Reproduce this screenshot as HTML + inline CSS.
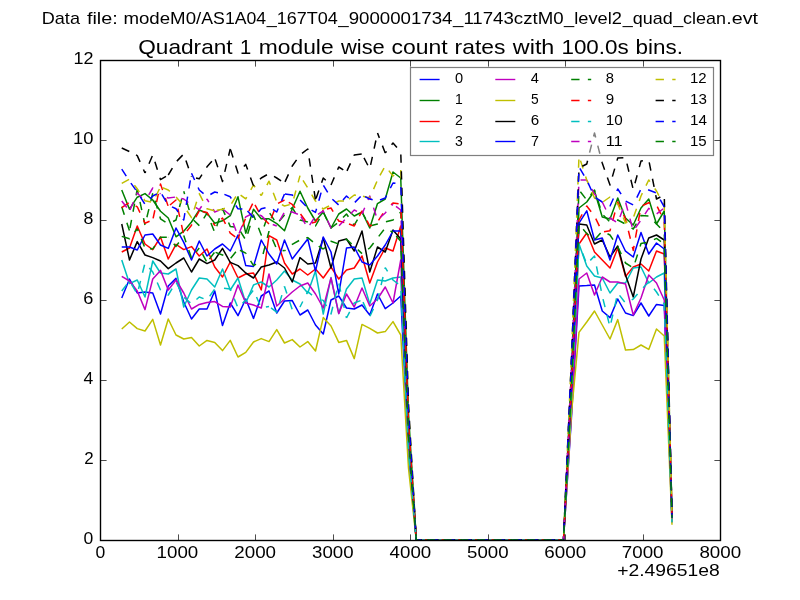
<!DOCTYPE html>
<html><head><meta charset="utf-8"><title>Quadrant 1 module wise count rates</title>
<style>html,body{margin:0;padding:0;background:#fff;}svg{display:block;will-change:transform;}text{font-family:"Liberation Sans",sans-serif;fill:#000;}</style>
</head><body>
<svg width="800" height="600" viewBox="0 0 800 600">
<rect x="0" y="0" width="800" height="600" fill="#ffffff"/>
<text x="41.76" y="24.30" font-size="17.00" textLength="38.21" lengthAdjust="spacingAndGlyphs">Data</text>
<text x="86.90" y="24.30" font-size="17.00" textLength="30.83" lengthAdjust="spacingAndGlyphs">file:</text>
<text x="123.46" y="24.30" font-size="17.00" textLength="77.77" lengthAdjust="spacingAndGlyphs">modeM0/</text>
<text x="201.32" y="24.30" font-size="17.00" textLength="64.83" lengthAdjust="spacingAndGlyphs">AS1A04</text>
<text x="266.68" y="24.30" font-size="17.00" textLength="71.18" lengthAdjust="spacingAndGlyphs">_167T04</text>
<text x="338.39" y="24.30" font-size="17.00" textLength="114.13" lengthAdjust="spacingAndGlyphs">_9000001734</text>
<text x="453.02" y="24.30" font-size="17.00" textLength="110.54" lengthAdjust="spacingAndGlyphs">_11743cztM0</text>
<text x="564.06" y="24.30" font-size="17.00" textLength="57.84" lengthAdjust="spacingAndGlyphs">_level2</text>
<text x="622.76" y="24.30" font-size="17.00" textLength="49.92" lengthAdjust="spacingAndGlyphs">_quad</text>
<text x="673.15" y="24.30" font-size="17.00" textLength="52.92" lengthAdjust="spacingAndGlyphs">_clean</text>
<text x="726.30" y="24.30" font-size="17.00" textLength="31.78" lengthAdjust="spacingAndGlyphs">.evt</text>
<text x="138.26" y="54.30" font-size="20.40" textLength="94.36" lengthAdjust="spacingAndGlyphs">Quadrant</text>
<text x="239.98" y="54.30" font-size="20.40" textLength="11.24" lengthAdjust="spacingAndGlyphs">1</text>
<text x="258.78" y="54.30" font-size="20.40" textLength="74.88" lengthAdjust="spacingAndGlyphs">module</text>
<text x="340.97" y="54.30" font-size="20.40" textLength="43.84" lengthAdjust="spacingAndGlyphs">wise</text>
<text x="391.43" y="54.30" font-size="20.40" textLength="56.20" lengthAdjust="spacingAndGlyphs">count</text>
<text x="454.63" y="54.30" font-size="20.40" textLength="50.78" lengthAdjust="spacingAndGlyphs">rates</text>
<text x="512.83" y="54.30" font-size="20.40" textLength="41.53" lengthAdjust="spacingAndGlyphs">with</text>
<text x="561.43" y="54.30" font-size="20.40" textLength="67.27" lengthAdjust="spacingAndGlyphs">100.0s</text>
<text x="635.63" y="54.30" font-size="20.40" textLength="47.40" lengthAdjust="spacingAndGlyphs">bins.</text>
<g fill="none" stroke-width="1.5" stroke-linejoin="round" clip-path="url(#ax)">
<defs><clipPath id="ax"><rect x="100" y="60" width="620" height="480.7"/></clipPath></defs>
<polyline stroke="#0000ff" points="121.75,298.00 129.50,279.00 137.25,293.00 145.00,292.00 152.75,293.00 160.50,314.00 168.25,286.00 176.00,278.40 183.75,302.00 191.50,319.00 199.25,309.00 207.00,309.00 214.75,291.00 222.50,325.60 230.25,303.00 238.00,315.60 245.75,299.00 253.50,318.40 261.25,296.00 269.00,291.00 276.75,313.00 284.50,301.00 292.25,300.60 300.00,315.00 307.75,310.00 315.50,325.00 323.25,334.00 331.00,300.00 338.75,296.00 346.50,308.00 354.25,309.00 362.00,305.00 369.75,315.00 377.50,294.00 385.25,308.60 393.00,303.00 400.75,296.00 408.50,454.60 416.25,540.00 424.00,540.00 431.75,540.00 439.50,540.00 447.25,540.00 455.00,540.00 462.75,540.00 470.50,540.00 478.25,540.00 486.00,540.00 493.75,540.00 501.50,540.00 509.25,540.00 517.00,540.00 524.75,540.00 532.50,540.00 540.25,540.00 548.00,540.00 555.75,540.00 563.50,540.00 571.25,420.62 579.00,286.00 586.75,285.60 594.50,285.00 602.25,311.00 610.00,317.60 617.75,299.00 625.50,313.00 633.25,315.60 641.00,303.00 648.75,316.00 656.50,304.40 664.25,305.60 672.00,522.42"/>
<polyline stroke="#008000" points="121.75,190.00 129.50,209.20 137.25,197.20 145.00,193.60 152.75,200.00 160.50,211.20 168.25,218.00 176.00,236.80 183.75,231.20 191.50,222.00 199.25,210.00 207.00,213.20 214.75,223.20 222.50,220.80 230.25,215.60 238.00,196.80 245.75,233.20 253.50,209.20 261.25,218.80 269.00,218.80 276.75,223.60 284.50,230.80 292.25,208.80 300.00,191.20 307.75,208.00 315.50,221.00 323.25,212.00 331.00,228.00 338.75,214.00 346.50,209.00 354.25,216.00 362.00,212.00 369.75,228.00 377.50,203.60 385.25,199.00 393.00,172.00 400.75,178.00 408.50,413.30 416.25,540.00 424.00,540.00 431.75,540.00 439.50,540.00 447.25,540.00 455.00,540.00 462.75,540.00 470.50,540.00 478.25,540.00 486.00,540.00 493.75,540.00 501.50,540.00 509.25,540.00 517.00,540.00 524.75,540.00 532.50,540.00 540.25,540.00 548.00,540.00 555.75,540.00 563.50,540.00 571.25,383.96 579.00,208.00 586.75,202.00 594.50,191.00 602.25,217.00 610.00,219.00 617.75,198.00 625.50,218.00 633.25,225.00 641.00,208.00 648.75,199.00 656.50,224.00 664.25,211.00 672.00,515.33"/>
<polyline stroke="#ff0000" points="121.75,252.00 129.50,248.00 137.25,226.00 145.00,244.00 152.75,249.60 160.50,237.00 168.25,259.00 176.00,244.40 183.75,249.60 191.50,246.60 199.25,256.00 207.00,249.00 214.75,267.00 222.50,277.00 230.25,262.00 238.00,278.00 245.75,274.00 253.50,273.00 261.25,290.00 269.00,235.60 276.75,240.00 284.50,263.00 292.25,274.00 300.00,269.00 307.75,275.00 315.50,269.00 323.25,278.00 331.00,267.00 338.75,279.00 346.50,270.00 354.25,268.00 362.00,256.00 369.75,283.00 377.50,262.00 385.25,248.00 393.00,251.00 400.75,226.00 408.50,430.10 416.25,540.00 424.00,540.00 431.75,540.00 439.50,540.00 447.25,540.00 455.00,540.00 462.75,540.00 470.50,540.00 478.25,540.00 486.00,540.00 493.75,540.00 501.50,540.00 509.25,540.00 517.00,540.00 524.75,540.00 532.50,540.00 540.25,540.00 548.00,540.00 555.75,540.00 563.50,540.00 571.25,400.88 579.00,244.00 586.75,233.00 594.50,252.00 602.25,260.00 610.00,268.00 617.75,248.00 625.50,276.40 633.25,267.00 641.00,264.00 648.75,271.00 656.50,251.00 664.25,254.00 672.00,518.55"/>
<polyline stroke="#00bfbf" points="121.75,260.00 129.50,283.60 137.25,280.00 145.00,297.00 152.75,261.00 160.50,273.00 168.25,274.00 176.00,269.00 183.75,307.00 191.50,290.00 199.25,278.00 207.00,279.00 214.75,287.00 222.50,269.00 230.25,290.00 238.00,278.00 245.75,303.00 253.50,285.00 261.25,282.00 269.00,287.00 276.75,280.00 284.50,271.00 292.25,280.00 300.00,284.00 307.75,293.00 315.50,271.00 323.25,314.00 331.00,277.60 338.75,313.60 346.50,289.00 354.25,279.00 362.00,278.00 369.75,304.00 377.50,280.00 385.25,281.00 393.00,278.00 400.75,277.00 408.50,447.95 416.25,540.00 424.00,540.00 431.75,540.00 439.50,540.00 447.25,540.00 455.00,540.00 462.75,540.00 470.50,540.00 478.25,540.00 486.00,540.00 493.75,540.00 501.50,540.00 509.25,540.00 517.00,540.00 524.75,540.00 532.50,540.00 540.25,540.00 548.00,540.00 555.75,540.00 563.50,540.00 571.25,400.88 579.00,244.00 586.75,266.00 594.50,276.00 602.25,278.00 610.00,293.00 617.75,283.00 625.50,283.00 633.25,268.00 641.00,267.00 648.75,283.00 656.50,277.00 664.25,273.00 672.00,519.98"/>
<polyline stroke="#bf00bf" points="121.75,276.40 129.50,281.00 137.25,291.00 145.00,309.60 152.75,279.00 160.50,270.40 168.25,290.00 176.00,280.00 183.75,293.00 191.50,309.00 199.25,304.40 207.00,302.40 214.75,301.60 222.50,306.40 230.25,307.00 238.00,285.00 245.75,303.00 253.50,305.00 261.25,308.00 269.00,274.00 276.75,306.00 284.50,299.00 292.25,292.00 300.00,286.00 307.75,283.00 315.50,294.00 323.25,308.00 331.00,278.00 338.75,313.60 346.50,294.00 354.25,307.00 362.00,288.00 369.75,306.00 377.50,299.00 385.25,287.00 393.00,303.00 400.75,260.00 408.50,442.00 416.25,540.00 424.00,540.00 431.75,540.00 439.50,540.00 447.25,540.00 455.00,540.00 462.75,540.00 470.50,540.00 478.25,540.00 486.00,540.00 493.75,540.00 501.50,540.00 509.25,540.00 517.00,540.00 524.75,540.00 532.50,540.00 540.25,540.00 548.00,540.00 555.75,540.00 563.50,540.00 571.25,417.33 579.00,279.00 586.75,273.00 594.50,295.00 602.25,277.00 610.00,282.00 617.75,282.00 625.50,284.00 633.25,315.00 641.00,298.00 648.75,275.00 656.50,283.00 664.25,300.00 672.00,522.00"/>
<polyline stroke="#bfbf00" points="121.75,329.00 129.50,322.00 137.25,328.60 145.00,331.00 152.75,319.40 160.50,345.00 168.25,319.00 176.00,335.00 183.75,339.00 191.50,337.40 199.25,346.00 207.00,340.40 214.75,342.40 222.50,350.60 230.25,340.40 238.00,357.00 245.75,352.40 253.50,342.00 261.25,338.60 269.00,341.60 276.75,329.60 284.50,343.00 292.25,339.60 300.00,347.00 307.75,341.60 315.50,351.00 323.25,317.60 331.00,326.00 338.75,342.40 346.50,340.40 354.25,358.60 362.00,324.40 369.75,328.40 377.50,333.00 385.25,331.60 393.00,321.60 400.75,335.00 408.50,468.25 416.25,540.00 424.00,540.00 431.75,540.00 439.50,540.00 447.25,540.00 455.00,540.00 462.75,540.00 470.50,540.00 478.25,540.00 486.00,540.00 493.75,540.00 501.50,540.00 509.25,540.00 517.00,540.00 524.75,540.00 532.50,540.00 540.25,540.00 548.00,540.00 555.75,540.00 563.50,540.00 571.25,415.44 579.00,332.40 586.75,322.00 594.50,311.00 602.25,325.00 610.00,339.00 617.75,319.60 625.50,350.00 633.25,349.60 641.00,345.00 648.75,349.40 656.50,329.00 664.25,336.00 672.00,524.70"/>
<polyline stroke="#000000" points="121.75,224.00 129.50,260.00 137.25,241.60 145.00,255.00 152.75,257.60 160.50,261.00 168.25,268.60 176.00,263.00 183.75,258.00 191.50,272.00 199.25,259.00 207.00,263.60 214.75,260.00 222.50,248.40 230.25,262.40 238.00,265.60 245.75,273.00 253.50,278.00 261.25,267.00 269.00,265.00 276.75,262.00 284.50,268.00 292.25,282.00 300.00,257.60 307.75,264.00 315.50,263.00 323.25,238.00 331.00,268.00 338.75,241.00 346.50,239.00 354.25,251.00 362.00,231.00 369.75,272.00 377.50,247.00 385.25,252.00 393.00,230.00 400.75,239.00 408.50,434.65 416.25,540.00 424.00,540.00 431.75,540.00 439.50,540.00 447.25,540.00 455.00,540.00 462.75,540.00 470.50,540.00 478.25,540.00 486.00,540.00 493.75,540.00 501.50,540.00 509.25,540.00 517.00,540.00 524.75,540.00 532.50,540.00 540.25,540.00 548.00,540.00 555.75,540.00 563.50,540.00 571.25,391.48 579.00,224.00 586.75,225.00 594.50,244.00 602.25,240.00 610.00,257.00 617.75,246.00 625.50,275.00 633.25,297.00 641.00,259.00 648.75,238.00 656.50,235.00 664.25,240.00 672.00,517.50"/>
<polyline stroke="#0000ff" points="121.75,247.00 129.50,247.00 137.25,250.00 145.00,235.00 152.75,234.00 160.50,245.00 168.25,248.40 176.00,228.00 183.75,242.40 191.50,260.00 199.25,241.00 207.00,256.00 214.75,249.00 222.50,244.00 230.25,251.00 238.00,235.00 245.75,265.60 253.50,266.40 261.25,240.00 269.00,254.00 276.75,264.00 284.50,240.00 292.25,259.00 300.00,249.00 307.75,239.00 315.50,271.00 323.25,237.00 331.00,252.00 338.75,294.00 346.50,248.00 354.25,247.00 362.00,262.00 369.75,265.00 377.50,256.00 385.25,245.00 393.00,231.00 400.75,231.00 408.50,431.85 416.25,540.00 424.00,540.00 431.75,540.00 439.50,540.00 447.25,540.00 455.00,540.00 462.75,540.00 470.50,540.00 478.25,540.00 486.00,540.00 493.75,540.00 501.50,540.00 509.25,540.00 517.00,540.00 524.75,540.00 532.50,540.00 540.25,540.00 548.00,540.00 555.75,540.00 563.50,540.00 571.25,391.10 579.00,223.20 586.75,210.80 594.50,240.00 602.25,238.00 610.00,260.00 617.75,235.00 625.50,251.20 633.25,257.00 641.00,232.40 648.75,254.00 656.50,243.00 664.25,249.00 672.00,518.17"/>
<g stroke="#008000" stroke-dasharray="8.33 8.33">
<polyline points="121.75,206.80 129.50,230.80"/>
<polyline stroke-dashoffset="13.93" points="129.50,230.80 137.25,189.20"/>
<polyline stroke-dashoffset="3.66" points="137.25,189.20 145.00,225.00"/>
<polyline stroke-dashoffset="8.64" points="145.00,225.00 152.75,193.20"/>
<polyline stroke-dashoffset="8.90" points="152.75,193.20 160.50,218.80 168.25,224.00"/>
<polyline stroke-dashoffset="11.20" points="168.25,224.00 176.00,220.00 183.75,191.20"/>
<polyline stroke-dashoffset="5.32" points="183.75,191.20 191.50,218.00"/>
<polyline stroke-dashoffset="13.51" points="191.50,218.00 199.25,225.60"/>
<polyline stroke-dashoffset="8.17" points="199.25,225.60 207.00,213.20 214.75,232.40 222.50,208.80 230.25,226.40 238.00,227.60 245.75,240.00 253.50,215.00 261.25,235.00 269.00,212.00 276.75,224.00 284.50,215.00 292.25,207.60 300.00,220.00 307.75,222.00 315.50,226.00 323.25,212.00 331.00,228.00 338.75,222.00 346.50,214.00 354.25,225.20 362.00,212.00 369.75,226.00 377.50,224.00 385.25,222.00 393.00,220.00 400.75,212.00 408.50,425.20 416.25,540.00 424.00,540.00 431.75,540.00 439.50,540.00 447.25,540.00 455.00,540.00 462.75,540.00 470.50,540.00 478.25,540.00 486.00,540.00 493.75,540.00 501.50,540.00 509.25,540.00 517.00,540.00 524.75,540.00 532.50,540.00 540.25,540.00 548.00,540.00 555.75,540.00 563.50,540.00"/>
<polyline stroke-dashoffset="13.92" points="563.50,540.00 571.25,375.50 579.00,190.00 586.75,200.00 594.50,190.00 602.25,214.00 610.00,222.00 617.75,220.00 625.50,224.00 633.25,229.00 641.00,215.60 648.75,216.00 656.50,224.00 664.25,232.00 672.00,516.90"/>
</g>
<g stroke="#ff0000" stroke-dasharray="8.33 8.33">
<polyline points="121.75,207.60 129.50,202.40"/>
<polyline stroke-dashoffset="9.65" points="129.50,202.40 137.25,206.80 145.00,223.20 152.75,220.00"/>
<polyline stroke-dashoffset="15.00" points="152.75,220.00 160.50,184.00 168.25,206.40"/>
<polyline stroke-dashoffset="14.39" points="168.25,206.40 176.00,200.00 183.75,235.20"/>
<polyline stroke-dashoffset="11.52" points="183.75,235.20 191.50,225.20 199.25,210.80"/>
<polyline stroke-dashoffset="13.34" points="199.25,210.80 207.00,212.40 214.75,225.60"/>
<polyline stroke-dashoffset="7.56" points="214.75,225.60 222.50,218.00 230.25,233.20 238.00,238.80"/>
<polyline stroke-dashoffset="3.55" points="238.00,238.80 245.75,217.60 253.50,202.00"/>
<polyline stroke-dashoffset="13.50" points="253.50,202.00 261.25,216.40 269.00,224.00"/>
<polyline stroke-dashoffset="10.43" points="269.00,224.00 276.75,204.00 284.50,200.00"/>
<polyline stroke-dashoffset="11.77" points="284.50,200.00 292.25,204.40 300.00,213.20 307.75,224.00 315.50,222.00 323.25,210.00"/>
<polyline stroke-dashoffset="12.79" points="323.25,210.00 331.00,208.00 338.75,221.00 346.50,223.00"/>
<polyline stroke-dashoffset="13.98" points="346.50,223.00 354.25,226.00 362.00,211.00 369.75,226.00 377.50,222.00 385.25,210.00"/>
<polyline stroke-dashoffset="8.91" points="385.25,210.00 393.00,203.00 400.75,204.00 408.50,422.40 416.25,540.00 424.00,540.00 431.75,540.00 439.50,540.00 447.25,540.00 455.00,540.00 462.75,540.00 470.50,540.00 478.25,540.00 486.00,540.00 493.75,540.00 501.50,540.00 509.25,540.00 517.00,540.00 524.75,540.00 532.50,540.00 540.25,540.00 548.00,540.00 555.75,540.00 563.50,540.00"/>
<polyline stroke-dashoffset="14.60" points="563.50,540.00 571.25,389.60 579.00,220.00 586.75,206.00 594.50,216.00 602.25,232.00 610.00,230.80 617.75,202.00 625.50,219.00 633.25,250.40 641.00,206.40 648.75,202.80 656.50,205.00 664.25,221.00 672.00,516.08"/>
</g>
<g stroke="#00bfbf" stroke-dasharray="8.33 8.33">
<polyline points="121.75,291.00 129.50,280.80 137.25,294.00 145.00,263.00 152.75,272.00 160.50,290.00 168.25,295.00 176.00,282.00 183.75,297.00 191.50,304.00 199.25,297.00 207.00,300.00 214.75,289.00 222.50,288.00"/>
<polyline stroke-dashoffset="15.15" points="222.50,288.00 230.25,289.00 238.00,308.00 245.75,300.00"/>
<polyline stroke-dashoffset="12.99" points="245.75,300.00 253.50,290.00 261.25,308.00 269.00,306.40"/>
<polyline stroke-dashoffset="14.16" points="269.00,306.40 276.75,312.20 284.50,286.40"/>
<polyline stroke-dashoffset="0.88" points="284.50,286.40 292.25,309.60 300.00,307.00"/>
<polyline stroke-dashoffset="2.20" points="300.00,307.00 307.75,291.60 315.50,298.00"/>
<polyline stroke-dashoffset="10.38" points="315.50,298.00 323.25,300.40 331.00,314.00 338.75,283.00 346.50,318.00"/>
<polyline stroke-dashoffset="1.41" points="346.50,318.00 354.25,303.00 362.00,300.00"/>
<polyline stroke-dashoffset="14.27" points="362.00,300.00 369.75,316.80 377.50,300.00 385.25,267.60"/>
<polyline stroke-dashoffset="3.92" points="385.25,267.60 393.00,280.00 400.75,286.00 408.50,451.10 416.25,540.00 424.00,540.00 431.75,540.00 439.50,540.00 447.25,540.00 455.00,540.00 462.75,540.00 470.50,540.00 478.25,540.00 486.00,540.00 493.75,540.00 501.50,540.00 509.25,540.00 517.00,540.00 524.75,540.00 532.50,540.00 540.25,540.00 548.00,540.00 555.75,540.00 563.50,540.00"/>
<polyline stroke-dashoffset="10.28" points="563.50,540.00 571.25,400.88 579.00,244.00 586.75,264.00 594.50,256.00 602.25,296.00 610.00,327.00 617.75,293.00 625.50,303.00 633.25,299.00 641.00,290.00 648.75,282.00 656.50,292.00 664.25,304.00 672.00,522.30"/>
</g>
<g stroke="#bf00bf" stroke-dasharray="8.33 8.33">
<polyline points="121.75,201.00 129.50,211.00"/>
<polyline stroke-dashoffset="15.40" points="129.50,211.00 137.25,193.00 145.00,201.20"/>
<polyline stroke-dashoffset="9.25" points="145.00,201.20 152.75,188.00 160.50,194.00"/>
<polyline stroke-dashoffset="9.46" points="160.50,194.00 168.25,198.00 176.00,197.00"/>
<polyline stroke-dashoffset="11.24" points="176.00,197.00 183.75,199.00 191.50,205.00"/>
<polyline stroke-dashoffset="11.89" points="191.50,205.00 199.25,209.60 207.00,199.00"/>
<polyline stroke-dashoffset="4.75" points="207.00,199.00 214.75,212.00 222.50,209.00"/>
<polyline stroke-dashoffset="15.08" points="222.50,209.00 230.25,215.00 238.00,236.00 245.75,216.80 253.50,213.00"/>
<polyline stroke-dashoffset="10.44" points="253.50,213.00 261.25,215.60 269.00,223.00 276.75,226.00"/>
<polyline stroke-dashoffset="9.95" points="276.75,226.00 284.50,212.00"/>
<polyline stroke-dashoffset="11.16" points="284.50,212.00 292.25,212.00 300.00,215.00"/>
<polyline stroke-dashoffset="14.71" points="300.00,215.00 307.75,228.00 315.50,216.00"/>
<polyline stroke-dashoffset="13.69" points="315.50,216.00 323.25,211.00 331.00,228.00 338.75,226.00 346.50,218.00 354.25,210.00 362.00,214.00"/>
<polyline stroke-dashoffset="1.49" points="362.00,214.00 369.75,196.00 377.50,220.00 385.25,213.00 393.00,204.00"/>
<polyline stroke-dashoffset="12.87" points="393.00,204.00 400.75,210.00 408.50,424.50 416.25,540.00 424.00,540.00 431.75,540.00 439.50,540.00 447.25,540.00 455.00,540.00 462.75,540.00 470.50,540.00 478.25,540.00 486.00,540.00 493.75,540.00 501.50,540.00 509.25,540.00 517.00,540.00 524.75,540.00 532.50,540.00 540.25,540.00 548.00,540.00 555.75,540.00 563.50,540.00"/>
<polyline stroke-dashoffset="4.64" points="563.50,540.00 571.25,370.80 579.00,180.00 586.75,180.00 594.50,194.00 602.25,202.00 610.00,218.00 617.75,223.00 625.50,202.00 633.25,231.00 641.00,220.00 648.75,208.40 656.50,214.00 664.25,208.00 672.00,515.10"/>
</g>
<g stroke="#bfbf00" stroke-dasharray="8.33 8.33">
<polyline points="121.75,183.40 129.50,179.20 137.25,188.80 145.00,200.80 152.75,202.40 160.50,186.80"/>
<polyline stroke-dashoffset="14.50" points="160.50,186.80 168.25,190.00 176.00,196.80 183.75,206.00"/>
<polyline stroke-dashoffset="10.99" points="183.75,206.00 191.50,217.60 199.25,193.60 207.00,208.80 214.75,210.80"/>
<polyline stroke-dashoffset="14.47" points="214.75,210.80 222.50,209.20 230.25,205.60 238.00,193.20"/>
<polyline stroke-dashoffset="13.45" points="238.00,193.20 245.75,198.80 253.50,185.00 261.25,195.60"/>
<polyline stroke-dashoffset="4.74" points="261.25,195.60 269.00,181.20 276.75,202.00"/>
<polyline stroke-dashoffset="10.86" points="276.75,202.00 284.50,206.00 292.25,204.00 300.00,175.60"/>
<polyline stroke-dashoffset="11.00" points="300.00,175.60 307.75,188.00 315.50,201.00"/>
<polyline stroke-dashoffset="7.32" points="315.50,201.00 323.25,209.00 331.00,205.00"/>
<polyline stroke-dashoffset="11.03" points="331.00,205.00 338.75,201.00 346.50,201.00"/>
<polyline stroke-dashoffset="13.50" points="346.50,201.00 354.25,195.00 362.00,196.00"/>
<polyline stroke-dashoffset="15.63" points="362.00,196.00 369.75,198.00 377.50,180.00"/>
<polyline stroke-dashoffset="11.50" points="377.50,180.00 385.25,166.00 393.00,176.00 400.75,170.00 408.50,410.50 416.25,540.00 424.00,540.00 431.75,540.00 439.50,540.00 447.25,540.00 455.00,540.00 462.75,540.00 470.50,540.00 478.25,540.00 486.00,540.00 493.75,540.00 501.50,540.00 509.25,540.00 517.00,540.00 524.75,540.00 532.50,540.00 540.25,540.00 548.00,540.00 555.75,540.00 563.50,540.00"/>
<polyline stroke-dashoffset="10.65" points="563.50,540.00 571.25,359.52 579.00,156.00 586.75,180.00 594.50,198.00 602.25,202.40 610.00,197.00 617.75,204.00 625.50,223.00 633.25,218.00 641.00,196.00 648.75,180.00 656.50,191.00 664.25,206.00 672.00,514.95"/>
</g>
<g stroke="#000000" stroke-dasharray="8.33 8.33">
<polyline points="121.75,148.00 129.50,151.60"/>
<polyline stroke-dashoffset="9.35" points="129.50,151.60 137.25,155.60 145.00,173.00"/>
<polyline stroke-dashoffset="6.55" points="145.00,173.00 152.75,155.00 160.50,179.60 168.25,175.00"/>
<polyline stroke-dashoffset="0.29" points="168.25,175.00 176.00,162.00 183.75,154.00 191.50,176.80"/>
<polyline stroke-dashoffset="12.01" points="191.50,176.80 199.25,178.80 207.00,166.80 214.75,158.00"/>
<polyline stroke-dashoffset="15.21" points="214.75,158.00 222.50,181.60 230.25,148.80"/>
<polyline stroke-dashoffset="15.78" points="230.25,148.80 238.00,173.00 245.75,164.40 253.50,186.00"/>
<polyline stroke-dashoffset="7.32" points="253.50,186.00 261.25,178.00 269.00,173.60"/>
<polyline stroke-dashoffset="10.91" points="269.00,173.60 276.75,178.00 284.50,183.00"/>
<polyline stroke-dashoffset="15.46" points="284.50,183.00 292.25,166.00 300.00,155.00"/>
<polyline stroke-dashoffset="14.13" points="300.00,155.00 307.75,149.00 315.50,200.00"/>
<polyline stroke-dashoffset="14.96" points="315.50,200.00 323.25,178.00 331.00,185.00"/>
<polyline stroke-dashoffset="0.00" points="331.00,185.00 338.75,167.00 346.50,172.00"/>
<polyline stroke-dashoffset="15.46" points="346.50,172.00 354.25,155.00 362.00,154.00"/>
<polyline stroke-dashoffset="12.30" points="362.00,154.00 369.75,169.00 377.50,133.00"/>
<polyline stroke-dashoffset="3.10" points="377.50,133.00 385.25,153.00"/>
<polyline stroke-dashoffset="6.29" points="385.25,153.00 393.00,143.00 400.75,152.00 408.50,404.20 416.25,540.00 424.00,540.00 431.75,540.00 439.50,540.00 447.25,540.00 455.00,540.00 462.75,540.00 470.50,540.00 478.25,540.00 486.00,540.00 493.75,540.00 501.50,540.00 509.25,540.00 517.00,540.00 524.75,540.00 532.50,540.00 540.25,540.00 548.00,540.00 555.75,540.00 563.50,540.00"/>
<polyline stroke-dashoffset="7.12" points="563.50,540.00 571.25,365.16 579.00,168.00 586.75,164.00 594.50,133.00 602.25,163.00 610.00,185.00 617.75,158.00 625.50,157.60 633.25,189.60 641.00,161.00 648.75,160.00 656.50,199.00 664.25,195.00 672.00,514.12"/>
</g>
<g stroke="#0000ff" stroke-dasharray="8.33 8.33">
<polyline points="121.75,169.20 129.50,181.20 137.25,192.00 145.00,204.40 152.75,196.00 160.50,192.00"/>
<polyline stroke-dashoffset="13.90" points="160.50,192.00 168.25,205.20 176.00,208.80 183.75,220.00 191.50,173.20"/>
<polyline stroke-dashoffset="0.90" points="191.50,173.20 199.25,190.00 207.00,196.40 214.75,192.00 222.50,193.60"/>
<polyline stroke-dashoffset="14.60" points="222.50,193.60 230.25,196.80 238.00,208.80 245.75,209.20"/>
<polyline stroke-dashoffset="14.08" points="245.75,209.20 253.50,217.60 261.25,208.80 269.00,206.80 276.75,212.00 284.50,194.00"/>
<polyline stroke-dashoffset="16.16" points="284.50,194.00 292.25,195.00 300.00,200.00 307.75,208.00"/>
<polyline stroke-dashoffset="12.23" points="307.75,208.00 315.50,212.40 323.25,185.00 331.00,198.00 338.75,205.00"/>
<polyline stroke-dashoffset="10.15" points="338.75,205.00 346.50,196.00 354.25,203.00 362.00,195.00"/>
<polyline stroke-dashoffset="13.28" points="362.00,195.00 369.75,199.00 377.50,201.00"/>
<polyline stroke-dashoffset="13.98" points="377.50,201.00 385.25,198.00 393.00,183.00 400.75,184.00 408.50,415.40 416.25,540.00 424.00,540.00 431.75,540.00 439.50,540.00 447.25,540.00 455.00,540.00 462.75,540.00 470.50,540.00 478.25,540.00 486.00,540.00 493.75,540.00 501.50,540.00 509.25,540.00 517.00,540.00 524.75,540.00 532.50,540.00 540.25,540.00 548.00,540.00 555.75,540.00 563.50,540.00"/>
<polyline stroke-dashoffset="8.19" points="563.50,540.00 571.25,364.69 579.00,167.00 586.75,180.00 594.50,197.00 602.25,202.00 610.00,206.00 617.75,189.00 625.50,201.00 633.25,205.00 641.00,189.00 648.75,190.00 656.50,193.00 664.25,207.00 672.00,515.02"/>
</g>
<g stroke="#008000" stroke-dasharray="8.33 8.33">
<polyline points="121.75,236.40 129.50,238.80 137.25,228.80"/>
<polyline stroke-dashoffset="5.97" points="137.25,228.80 145.00,248.00"/>
<polyline stroke-dashoffset="11.62" points="145.00,248.00 152.75,249.00"/>
<polyline stroke-dashoffset="4.55" points="152.75,249.00 160.50,237.20 168.25,237.20"/>
<polyline stroke-dashoffset="8.12" points="168.25,237.20 176.00,246.40 183.75,235.60"/>
<polyline stroke-dashoffset="1.37" points="183.75,235.60 191.50,258.00"/>
<polyline stroke-dashoffset="8.91" points="191.50,258.00 199.25,248.00"/>
<polyline stroke-dashoffset="9.80" points="199.25,248.00 207.00,262.40"/>
<polyline stroke-dashoffset="12.64" points="207.00,262.40 214.75,252.00"/>
<polyline stroke-dashoffset="15.75" points="214.75,252.00 222.50,255.00 230.25,258.80 238.00,249.20"/>
<polyline stroke-dashoffset="14.41" points="238.00,249.20 245.75,253.20"/>
<polyline stroke-dashoffset="7.51" points="245.75,253.20 253.50,265.60 261.25,261.20"/>
<polyline stroke-dashoffset="9.27" points="261.25,261.20 269.00,231.20"/>
<polyline stroke-dashoffset="7.81" points="269.00,231.20 276.75,249.20 284.50,250.80"/>
<polyline stroke-dashoffset="7.06" points="284.50,250.80 292.25,244.40 300.00,240.00"/>
<polyline stroke-dashoffset="10.12" points="300.00,240.00 307.75,237.60 315.50,244.00"/>
<polyline stroke-dashoffset="12.75" points="315.50,244.00 323.25,249.20"/>
<polyline stroke-dashoffset="6.10" points="323.25,249.20 331.00,241.20 338.75,244.00 346.50,239.20 354.25,246.40 362.00,253.60"/>
<polyline stroke-dashoffset="9.13" points="362.00,253.60 369.75,248.00 377.50,238.00"/>
<polyline stroke-dashoffset="14.62" points="377.50,238.00 385.25,228.00 393.00,232.40"/>
<polyline stroke-dashoffset="11.74" points="393.00,232.40 400.75,241.20 408.50,435.42 416.25,540.00 424.00,540.00 431.75,540.00 439.50,540.00 447.25,540.00 455.00,540.00 462.75,540.00 470.50,540.00 478.25,540.00 486.00,540.00 493.75,540.00 501.50,540.00 509.25,540.00 517.00,540.00 524.75,540.00 532.50,540.00 540.25,540.00 548.00,540.00 555.75,540.00 563.50,540.00"/>
<polyline stroke-dashoffset="10.18" points="563.50,540.00 571.25,391.48 579.00,224.00 586.75,233.60 594.50,240.00 602.25,231.20 610.00,235.00 617.75,246.80 625.50,263.00 633.25,268.00 641.00,243.60 648.75,242.00 656.50,238.40 664.25,244.00 672.00,517.80"/>
</g>
</g>
<rect x="100.5" y="60.5" width="620" height="480" fill="none" stroke="#000" stroke-width="1.39"/>
<path d="M100.5 540.5v-6.1M100.5 60.5v6.1M178.5 540.5v-6.1M178.5 60.5v6.1M255.5 540.5v-6.1M255.5 60.5v6.1M333.5 540.5v-6.1M333.5 60.5v6.1M410.5 540.5v-6.1M410.5 60.5v6.1M488.5 540.5v-6.1M488.5 60.5v6.1M565.5 540.5v-6.1M565.5 60.5v6.1M643.5 540.5v-6.1M643.5 60.5v6.1M720.5 540.5v-6.1M720.5 60.5v6.1M100.5 540.5h6.1M720.5 540.5h-6.1M100.5 460.5h6.1M720.5 460.5h-6.1M100.5 380.5h6.1M720.5 380.5h-6.1M100.5 300.5h6.1M720.5 300.5h-6.1M100.5 220.5h6.1M720.5 220.5h-6.1M100.5 140.5h6.1M720.5 140.5h-6.1M100.5 60.5h6.1M720.5 60.5h-6.1" stroke="#000" stroke-width="0.7" fill="none"/>
<text x="95.41" y="558.00" font-size="17.00" textLength="9.77" lengthAdjust="spacingAndGlyphs">0</text>
<text x="156.64" y="558.00" font-size="17.00" textLength="41.64" lengthAdjust="spacingAndGlyphs">1000</text>
<text x="234.31" y="558.00" font-size="17.00" textLength="41.77" lengthAdjust="spacingAndGlyphs">2000</text>
<text x="312.07" y="558.00" font-size="17.00" textLength="41.48" lengthAdjust="spacingAndGlyphs">3000</text>
<text x="389.62" y="558.00" font-size="17.00" textLength="41.66" lengthAdjust="spacingAndGlyphs">4000</text>
<text x="467.04" y="558.00" font-size="17.00" textLength="41.50" lengthAdjust="spacingAndGlyphs">5000</text>
<text x="544.27" y="558.00" font-size="17.00" textLength="41.84" lengthAdjust="spacingAndGlyphs">6000</text>
<text x="621.87" y="558.00" font-size="17.00" textLength="41.63" lengthAdjust="spacingAndGlyphs">7000</text>
<text x="699.40" y="558.00" font-size="17.00" textLength="41.73" lengthAdjust="spacingAndGlyphs">8000</text>
<text x="617.22" y="576.40" font-size="17.00" textLength="102.62" lengthAdjust="spacingAndGlyphs">+2.49651e8</text>
<text x="83.62" y="544.20" font-size="17.00" textLength="9.77" lengthAdjust="spacingAndGlyphs">0</text>
<text x="84.13" y="464.20" font-size="17.00" textLength="9.42" lengthAdjust="spacingAndGlyphs">2</text>
<text x="83.44" y="384.20" font-size="17.00" textLength="9.77" lengthAdjust="spacingAndGlyphs">4</text>
<text x="83.39" y="304.20" font-size="17.00" textLength="10.11" lengthAdjust="spacingAndGlyphs">6</text>
<text x="83.59" y="224.20" font-size="17.00" textLength="9.88" lengthAdjust="spacingAndGlyphs">8</text>
<text x="73.03" y="144.20" font-size="17.00" textLength="20.38" lengthAdjust="spacingAndGlyphs">10</text>
<text x="73.62" y="64.20" font-size="17.00" textLength="19.98" lengthAdjust="spacingAndGlyphs">12</text>
<rect x="410.5" y="67.5" width="303" height="88" fill="#ffffff" fill-opacity="0.5" stroke="#000" stroke-opacity="0.5" stroke-width="1.2"/>
<path d="M419.6 79.5h20" stroke="#0000ff" stroke-width="1.39" fill="none"/>
<text x="454.94" y="83.00" font-size="14.00" textLength="8.14" lengthAdjust="spacingAndGlyphs">0</text>
<path d="M419.6 100.5h20" stroke="#008000" stroke-width="1.39" fill="none"/>
<text x="455.06" y="103.80" font-size="14.00" textLength="7.78" lengthAdjust="spacingAndGlyphs">1</text>
<path d="M419.6 121.5h20" stroke="#ff0000" stroke-width="1.39" fill="none"/>
<text x="454.91" y="124.70" font-size="14.00" textLength="7.85" lengthAdjust="spacingAndGlyphs">2</text>
<path d="M419.6 141.5h20" stroke="#00bfbf" stroke-width="1.39" fill="none"/>
<text x="455.12" y="145.60" font-size="14.00" textLength="7.82" lengthAdjust="spacingAndGlyphs">3</text>
<path d="M495.3 79.5h20" stroke="#bf00bf" stroke-width="1.39" fill="none"/>
<text x="530.84" y="83.00" font-size="14.00" textLength="8.14" lengthAdjust="spacingAndGlyphs">4</text>
<path d="M495.3 100.5h20" stroke="#bfbf00" stroke-width="1.39" fill="none"/>
<text x="531.02" y="103.80" font-size="14.00" textLength="7.68" lengthAdjust="spacingAndGlyphs">5</text>
<path d="M495.3 121.5h20" stroke="#000000" stroke-width="1.39" fill="none"/>
<text x="530.70" y="124.70" font-size="14.00" textLength="8.43" lengthAdjust="spacingAndGlyphs">6</text>
<path d="M495.3 141.5h20" stroke="#0000ff" stroke-width="1.39" fill="none"/>
<text x="530.91" y="145.60" font-size="14.00" textLength="7.97" lengthAdjust="spacingAndGlyphs">7</text>
<path d="M571.2 79.5h20" stroke="#008000" stroke-width="1.39" fill="none" stroke-dasharray="8.33 8.33"/>
<text x="605.80" y="83.00" font-size="14.00" textLength="8.23" lengthAdjust="spacingAndGlyphs">8</text>
<path d="M571.2 100.5h20" stroke="#ff0000" stroke-width="1.39" fill="none" stroke-dasharray="8.33 8.33"/>
<text x="605.67" y="103.80" font-size="14.00" textLength="8.41" lengthAdjust="spacingAndGlyphs">9</text>
<path d="M571.2 121.5h20" stroke="#00bfbf" stroke-width="1.39" fill="none" stroke-dasharray="8.33 8.33"/>
<text x="605.86" y="124.70" font-size="14.00" textLength="16.98" lengthAdjust="spacingAndGlyphs">10</text>
<path d="M571.2 141.5h20" stroke="#bf00bf" stroke-width="1.39" fill="none" stroke-dasharray="8.33 8.33"/>
<text x="605.79" y="145.60" font-size="14.00" textLength="16.90" lengthAdjust="spacingAndGlyphs">11</text>
<path d="M655.6 79.5h20" stroke="#bfbf00" stroke-width="1.39" fill="none" stroke-dasharray="8.33 8.33"/>
<text x="689.99" y="83.00" font-size="14.00" textLength="16.65" lengthAdjust="spacingAndGlyphs">12</text>
<path d="M655.6 100.5h20" stroke="#000000" stroke-width="1.39" fill="none" stroke-dasharray="8.33 8.33"/>
<text x="689.97" y="103.80" font-size="14.00" textLength="16.86" lengthAdjust="spacingAndGlyphs">13</text>
<path d="M655.6 121.5h20" stroke="#0000ff" stroke-width="1.39" fill="none" stroke-dasharray="8.33 8.33"/>
<text x="689.96" y="124.70" font-size="14.00" textLength="16.98" lengthAdjust="spacingAndGlyphs">14</text>
<path d="M655.6 141.5h20" stroke="#008000" stroke-width="1.39" fill="none" stroke-dasharray="8.33 8.33"/>
<text x="689.98" y="145.60" font-size="14.00" textLength="16.71" lengthAdjust="spacingAndGlyphs">15</text>
</svg></body></html>
